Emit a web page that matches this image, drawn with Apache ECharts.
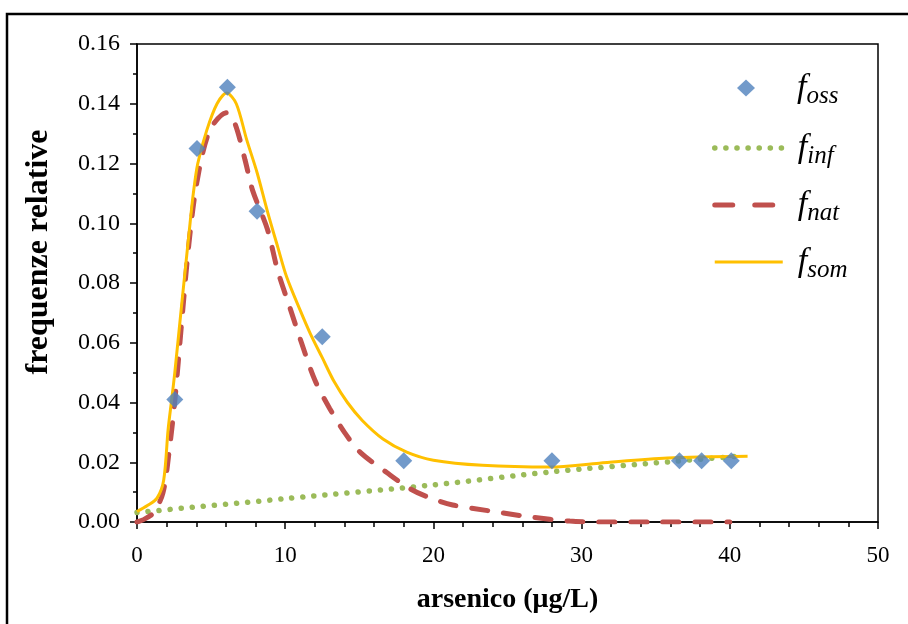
<!DOCTYPE html>
<html>
<head>
<meta charset="utf-8">
<script src="https://cdn.jsdelivr.net/npm/echarts@6/dist/echarts.min.js"></script>
<style>
html,body{margin:0;padding:0;background:#fff;}
#c{width:908px;height:624px;}
</style>
</head>
<body>
<div id="c"></div>
<script>
// Observed frequencies
const ossX = [2.55, 4.05, 6.1, 8.1, 12.5, 18.0, 28.0, 36.6, 38.1, 40.1];
const ossY = [0.041, 0.125, 0.1455, 0.104, 0.062, 0.0205, 0.0205, 0.0205, 0.0205, 0.0205];
// Infinite (green dotted)
const infX = [0, 10, 20, 28, 36, 41];
const infY = [0.0032, 0.0078, 0.0124, 0.0168, 0.0202, 0.0222];
// Natural (red dashed)
const natX = [0, 0.4, 1.1, 1.75, 2.2, 2.56, 3.0, 3.5, 4.05, 4.9, 6.05, 6.6, 7.3, 7.8, 8.8, 9.5, 10.3, 11.1, 12.0, 13.0, 14.0, 15.05, 16.9, 18.4, 19.6, 21.3, 23.8, 26.5, 29.2, 31, 35, 40];
const natY = [0, 0.0007, 0.003, 0.0097, 0.025, 0.041, 0.066, 0.093, 0.114, 0.131, 0.137, 0.1335, 0.121, 0.111, 0.098, 0.084, 0.072, 0.060, 0.0475, 0.038, 0.030, 0.0234, 0.0164, 0.0112, 0.0084, 0.0057, 0.0037, 0.0017, 0.0003, 0, 0, 0];
// Sum (orange solid)
const somX = [0, 0.7, 1.35, 1.8, 2.1, 2.34, 2.55, 3.04, 3.58, 3.8, 4.1, 4.7, 5.4, 6.05, 6.7, 7.4, 8.1, 8.8, 9.5, 10.1, 11.0, 11.7, 12.5, 13.3, 14.2, 15.2, 16.6, 18.2, 20.0, 23.3, 27.9, 31.2, 35.8, 41.2];
const somY = [0.0035, 0.0055, 0.008, 0.014, 0.031, 0.041, 0.05, 0.074, 0.100, 0.110, 0.120, 0.131, 0.140, 0.1436, 0.140, 0.128, 0.117, 0.104, 0.092, 0.082, 0.071, 0.063, 0.055, 0.047, 0.040, 0.034, 0.0278, 0.0234, 0.0207, 0.019, 0.0184, 0.0197, 0.0214, 0.022];

const seriesNames = ['foss', 'finf', 'fnat', 'fsom'];
const subs = {foss: 'oss', finf: 'inf', fnat: 'nat', fsom: 'som'};
const xTitle = 'arsenico (μg/L)';
const yTitle = 'frequenze relative';

const zip = (a, b) => a.map((v, i) => [v, b[i]]);
const serif = 'Liberation Serif';

const legendText = (pad) => ({
  color: '#000', padding: [0, 0, 0, pad],
  rich: {
    f: {fontFamily: serif, fontStyle: 'italic', fontSize: 34, lineHeight: 42, verticalAlign: 'middle', color: '#000'},
    s: {fontFamily: serif, fontStyle: 'italic', fontSize: 25, lineHeight: 42, verticalAlign: 'bottom', padding: [16, 0, 0, 0], color: '#000'}
  }
});
const fmt = n => '{f|f}{s|' + subs[n] + '}';

const chart = echarts.init(document.getElementById('c'));
chart.setOption({
  animation: false,
  backgroundColor: '#fff',
  graphic: [{
    type: 'rect', shape: {x: 7, y: 14, width: 1000, height: 700},
    style: {fill: 'none', stroke: '#000', lineWidth: 2.5}, silent: true, z: 0
  }],
  grid: {left: 137, right: 30, top: 44, bottom: 102, show: true, borderColor: '#000', borderWidth: 1.5, backgroundColor: 'transparent'},
  legend: [
    {
      orient: 'vertical', left: 732, top: 63, itemWidth: 18, itemHeight: 17, itemGap: 16,
      data: [{name: 'foss', icon: 'diamond'}],
      formatter: fmt, textStyle: legendText(37)
    },
    {
      orient: 'vertical', left: 707, top: 123, itemWidth: 68, itemHeight: 16, itemGap: 16,
      data: [
        {name: 'finf', itemStyle: {opacity: 0}, lineStyle: {width: 5.5, type: [0.1, 11], cap: 'round', color: '#9BBB59'}},
        {name: 'fnat', itemStyle: {opacity: 0}, lineStyle: {width: 5, type: [18, 22], cap: 'round', color: '#C0504D'}},
        {name: 'fsom', itemStyle: {opacity: 0}, lineStyle: {width: 3, color: '#FFC000'}}
      ],
      formatter: fmt, textStyle: legendText(10)
    }
  ],
  xAxis: {
    type: 'value', min: 0, max: 50, interval: 10,
    name: xTitle, nameLocation: 'middle', nameGap: 64,
    nameTextStyle: {fontFamily: serif, fontWeight: 'bold', fontSize: 28, color: '#000'},
    axisLine: {lineStyle: {color: '#000', width: 1.5}},
    axisTick: {show: true, inside: false, length: 7, lineStyle: {color: '#000', width: 1.5}},
    minorTick: {show: true, splitNumber: 5, length: 5, lineStyle: {color: '#000', width: 1.5}},
    axisLabel: {fontFamily: serif, fontSize: 23, color: '#000', margin: 22},
    splitLine: {show: false}
  },
  yAxis: {
    type: 'value', min: 0, max: 0.16, interval: 0.02,
    name: yTitle, nameLocation: 'middle', nameGap: 82,
    nameTextStyle: {fontFamily: serif, fontWeight: 'bold', fontSize: 32, color: '#000', padding: [0, 0, 0, 62]},
    axisLine: {lineStyle: {color: '#000', width: 1.5}},
    axisTick: {show: true, inside: false, length: 7, lineStyle: {color: '#000', width: 1.5}},
    minorTick: {show: true, splitNumber: 2, length: 4, lineStyle: {color: '#000', width: 1.5}},
    axisLabel: {fontFamily: serif, fontSize: 24, color: '#000', margin: 17, formatter: v => v.toFixed(2)},
    splitLine: {show: false}
  },
  series: [
    {
      name: 'foss', type: 'scatter', data: zip(ossX, ossY), symbol: 'diamond', symbolSize: 17,
      itemStyle: {color: '#4F81BD'}, z: 5
    },
    {
      name: 'finf', type: 'line', data: zip(infX, infY), symbol: 'none', smooth: 0.3,
      lineStyle: {color: '#9BBB59', width: 5.5, type: [0.1, 11], cap: 'round'},
      itemStyle: {color: '#9BBB59'}, z: 2
    },
    {
      name: 'fnat', type: 'line', data: zip(natX, natY), symbol: 'none', smooth: 0.3,
      lineStyle: {color: '#C0504D', width: 5, type: [16, 16], cap: 'round'},
      itemStyle: {color: '#C0504D'}, z: 3
    },
    {
      name: 'fsom', type: 'line', data: zip(somX, somY), symbol: 'none', smooth: 0.3,
      lineStyle: {color: '#FFC000', width: 3},
      itemStyle: {color: '#FFC000'}, z: 4
    }
  ]
});
</script>
</body>
</html>
